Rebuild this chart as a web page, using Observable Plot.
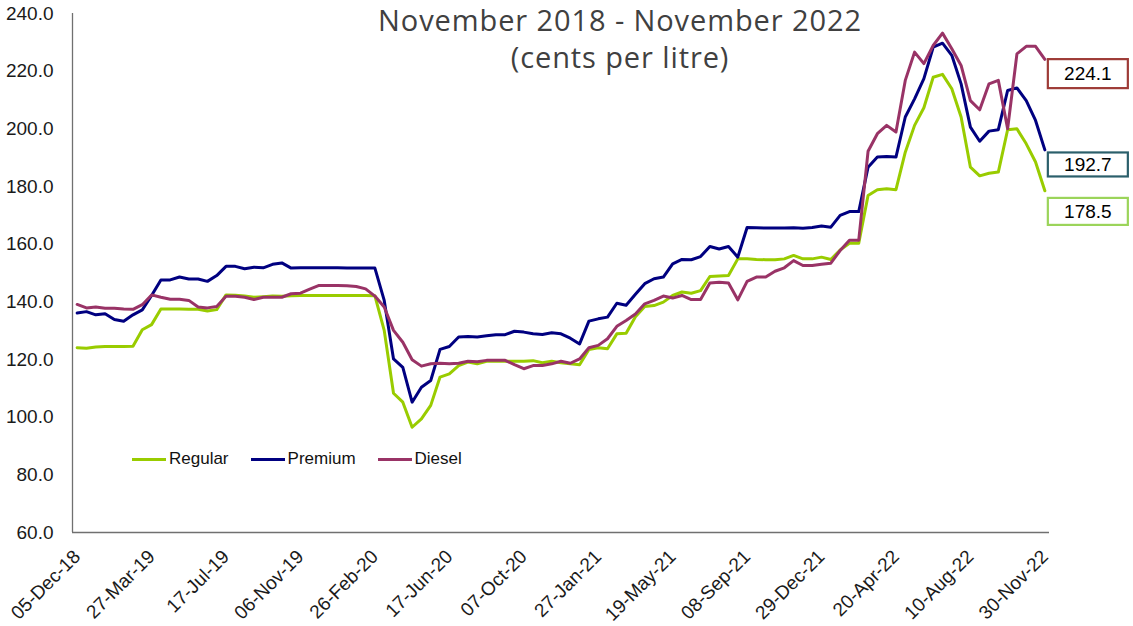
<!DOCTYPE html>
<html><head><meta charset="utf-8">
<script src="https://cdn.jsdelivr.net/npm/d3@7"></script>
<script src="https://cdn.jsdelivr.net/npm/@observablehq/plot@0.6"></script>
<style>
body{margin:0;background:#fff;}
#wrap{position:relative;width:1133px;height:626px;font-family:"Liberation Sans",Arial,sans-serif;overflow:hidden;}
#title{position:absolute;left:0;width:1240px;top:1px;text-align:center;font-family:"Open Sans",sans-serif;font-size:29px;line-height:37px;color:#404040;letter-spacing:0.9px;}
#legend{position:absolute;left:132px;top:449px;display:flex;align-items:center;gap:22px;font-size:17px;color:#111;}
#legend .it{display:flex;align-items:center;}
#legend .sw{width:34px;height:3px;margin-right:3px;}
</style></head>
<body>
<div id="wrap">
  <div id="title">November 2018 - November 2022<br>(cents per litre)</div>
  <div id="legend"></div>
</div>
<script>
const seriesNames = ["Regular", "Premium", "Diesel"];
const seriesColors = ["#99CC00", "#000080", "#993366"];
const boxColors = ["#9BD45A", "#2B5F6B", "#9E3B37"];
const startLabel = "05-Dec-18";
const stepDays = 14;
const tickLabels = ["05-Dec-18","27-Mar-19","17-Jul-19","06-Nov-19","26-Feb-20","17-Jun-20","07-Oct-20","27-Jan-21","19-May-21","08-Sep-21","29-Dec-21","20-Apr-22","10-Aug-22","30-Nov-22"];
const yTicks = [60,80,100,120,140,160,180,200,220,240];

const regular = [
124.1,123.9,124.3,124.5,124.5,124.5,124.6,130.3,132.1,137.5,
137.5,137.5,137.4,137.4,136.8,137.3,142.4,142.3,142.0,141.6,
141.8,142.0,141.9,142.1,142.2,142.2,142.2,142.2,142.2,142.2,
142.2,142.2,142.1,130.1,108.3,105.2,96.5,99.4,104.1,113.9,
115.0,117.9,119.1,118.5,119.4,119.4,119.4,119.4,119.4,119.6,
118.9,119.4,118.9,118.5,118.2,123.5,124.1,123.7,128.9,129.1,
134.8,138.4,138.7,139.9,142.2,143.4,143.0,143.9,148.8,149.0,
149.1,154.9,154.9,154.7,154.6,154.6,154.9,156.1,154.9,154.9,
155.5,154.7,158.0,160.3,160.3,176.9,178.9,179.2,178.9,191.9,
201.2,207.3,217.9,218.9,213.9,204.1,186.7,183.7,184.6,185.0,
199.7,200.0,194.8,188.5,178.5];
const premium = [
136.1,136.6,135.5,135.9,133.9,133.3,135.5,137.2,142.2,147.6,
147.6,148.6,147.9,147.9,147.1,149.1,152.3,152.3,151.5,152.0,
151.8,153.0,153.5,151.7,151.8,151.8,151.8,151.8,151.8,151.7,
151.7,151.7,151.7,140.5,120.2,117.3,105.2,110.4,112.7,123.5,
124.5,127.8,128.0,127.8,128.2,128.6,128.6,129.8,129.5,128.9,
128.7,129.3,128.9,127.4,125.4,133.3,134.1,134.7,139.5,138.8,
142.6,146.3,148.0,148.6,153.2,154.7,154.6,155.7,159.2,158.3,
159.2,155.5,165.8,165.7,165.6,165.6,165.6,165.7,165.5,165.8,
166.3,165.9,170.0,171.3,171.3,186.7,190.2,190.4,190.2,204.1,
210.4,217.4,228.3,229.7,225.5,215.6,200.6,195.7,199.2,199.7,
213.3,214.2,209.8,202.9,192.7];
const diesel = [
139.1,137.9,138.2,137.8,137.8,137.5,137.4,139.0,142.4,141.6,
140.9,140.9,140.5,138.2,137.9,138.4,141.9,141.9,141.6,140.8,
141.6,141.6,141.6,142.8,143.0,144.4,145.7,145.7,145.7,145.6,
145.3,144.5,142.0,138.2,130.1,126.0,119.9,117.7,118.5,118.7,
118.5,118.7,119.4,119.2,119.7,119.7,119.7,118.2,116.8,117.9,
117.9,118.5,119.4,118.7,120.2,124.1,124.9,127.2,131.5,133.5,
135.8,139.3,140.5,142.0,141.3,142.2,140.8,140.8,146.5,146.8,
146.5,140.7,147.1,148.6,148.6,150.6,151.8,154.3,152.6,152.6,
153.0,153.4,157.8,161.4,161.4,192.2,198.3,201.2,198.9,216.8,
226.6,222.6,228.9,233.2,227.8,222.0,209.8,206.6,215.6,216.8,
200.0,226.0,228.6,228.6,224.1];

const parse = d3.utcParse("%d-%b-%y");
const fmt = d3.utcFormat("%d-%b-%y");
const start = parse(startLabel);
const allSeries = [regular, premium, diesel];
const dates = regular.map((_, i) => d3.utcDay.offset(start, stepDays * i));
const tickDates = tickLabels.map(parse);
const lastDate = dates[dates.length - 1];
const xDomain = [d3.utcDay.offset(start, -stepDays / 2), d3.utcDay.offset(lastDate, stepDays / 2)];

const rows = allSeries.map((arr, s) => arr.map((v, i) => ({date: dates[i], value: v, series: seriesNames[s]})));
const ends = allSeries.map((arr, s) => ({date: lastDate, value: arr[arr.length - 1], series: seriesNames[s]}));
const labelDy = [21, 15, 14.7];
const boxH = [27, 24, 29];

const svg = Plot.plot({
  width: 1133,
  height: 626,
  marginLeft: 72,
  marginRight: 84,
  marginTop: 13,
  marginBottom: 94,
  style: {fontFamily: '"Liberation Sans", Arial, sans-serif', fontSize: "19px", color: "#1a1a1a", background: "#fff"},
  x: {type: "utc", domain: xDomain, ticks: tickDates, tickFormat: fmt, tickRotate: -45, tickSize: 0, tickPadding: 21, label: null},
  y: {domain: [60, 240], ticks: yTicks, tickSize: 0, tickPadding: 19, tickFormat: d => d.toFixed(1), label: null},
  marks: [
    Plot.ruleX([xDomain[0]], {stroke: "#707070", strokeWidth: 1.3}),
    Plot.ruleY([60], {stroke: "#707070", strokeWidth: 1.3}),
    ...rows.map((r, s) => Plot.line(r, {x: "date", y: "value", stroke: seriesColors[s], strokeWidth: 3, strokeLinejoin: "round", strokeLinecap: "round"})),
    ...ends.map((e, s) => Plot.text([e], {x: "date", y: "value", text: d => d.value.toFixed(1), dx: 43, dy: labelDy[s], fill: "#000", fontSize: 19, textAnchor: "middle"}))
  ]
});
document.getElementById("wrap").appendChild(svg);
svg.style.position = "absolute"; svg.style.left = "0"; svg.style.top = "0";

// boxes around the end labels
const textGroups = svg.querySelectorAll('g[aria-label="text"]');
textGroups.forEach((g, k) => {
  const t = g.querySelector("text");
  if (!t) return;
  const b = t.getBBox();
  const cx = b.x + b.width / 2, cy = b.y + b.height / 2;
  const rect = document.createElementNS("http://www.w3.org/2000/svg", "rect");
  rect.setAttribute("x", cx - 40); rect.setAttribute("y", cy - boxH[k] / 2);
  rect.setAttribute("width", 80); rect.setAttribute("height", boxH[k]);
  rect.setAttribute("fill", "#fff"); rect.setAttribute("stroke", boxColors[k]); rect.setAttribute("stroke-width", 2.2);
  const tr = t.getAttribute("transform");
  if (tr) rect.setAttribute("transform", tr);
  g.insertBefore(rect, t);
});
// legend
const leg = document.getElementById("legend");
seriesNames.forEach((n, s) => {
  const it = document.createElement("div"); it.className = "it";
  const sw = document.createElement("div"); sw.className = "sw"; sw.style.background = seriesColors[s];
  const tx = document.createElement("span"); tx.textContent = n;
  it.appendChild(sw); it.appendChild(tx); leg.appendChild(it);
});
document.getElementById("wrap").appendChild(document.getElementById("title"));
document.getElementById("wrap").appendChild(leg);
</script>
</body></html>
